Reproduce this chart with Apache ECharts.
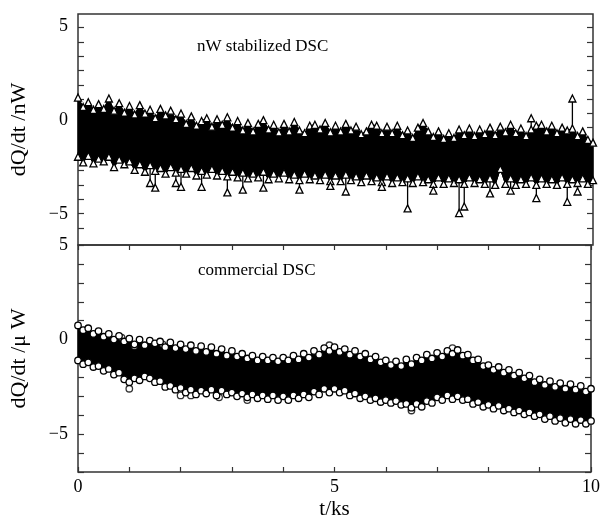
<!DOCTYPE html>
<html>
<head>
<meta charset="utf-8">
<title>DSC baseline</title>
<script src="https://cdn.jsdelivr.net/npm/echarts@6/dist/echarts.min.js"></script>
<style>
    html, body { margin: 0; padding: 0; background: #fff; }
    #main { width: 603px; height: 521px; }
</style>
</head>
<body>
<div id="main"></div>
<script>
// sample positions, t/ks (step 0.1)
var tGrid = [];
for (var i = 0; i <= 100; i++) tGrid.push(+(i * 0.1).toFixed(1));

// nW stabilized DSC: upper / lower edge of the noise band
var topHi = [1.20, 0.70, 0.95, 0.55, 0.85, 0.60, 1.15, 0.50, 0.90, 0.40,
    0.75, 0.30, 0.80, 0.35, 0.55, 0.10, 0.60, 0.25, 0.50, 0.05,
    0.35, -0.20, 0.20, -0.30, -0.05, 0.10, -0.35, 0.05, -0.25, 0.15,
    -0.40, -0.05, -0.55, -0.15, -0.60, -0.20, 0.00, -0.50, -0.25, -0.65,
    -0.20, -0.60, -0.10, -0.55, -0.70, -0.30, -0.25, -0.50, -0.15, -0.65,
    -0.30, -0.60, -0.20, -0.55, -0.35, -0.75, -0.60, -0.25, -0.30, -0.70,
    -0.35, -0.70, -0.30, -0.80, -0.55, -0.95, -0.40, -0.15, -0.60, -0.90,
    -0.60, -1.00, -0.70, -0.95, -0.50, -0.80, -0.45, -0.85, -0.50, -0.75,
    -0.40, -0.80, -0.35, -0.65, -0.25, -0.70, -0.45, -0.85, -0.50, -0.30,
    -0.25, -0.60, -0.30, -0.70, -0.40, -0.55, -0.45, -0.85, -0.60, -1.05, -1.20];
var topLo = [-1.95, -2.25, -1.90, -2.30, -2.05, -2.20, -1.95, -2.50, -2.10, -2.35,
    -2.20, -2.65, -2.35, -2.75, -2.40, -2.70, -2.55, -2.85, -2.50, -2.80,
    -2.60, -2.85, -2.55, -2.95, -2.70, -2.90, -2.60, -2.95, -2.70, -3.00,
    -2.75, -3.05, -2.80, -3.10, -2.85, -3.05, -2.75, -3.15, -2.85, -3.10,
    -2.80, -3.15, -2.90, -3.20, -2.85, -3.15, -2.95, -3.20, -2.90, -3.25,
    -2.95, -3.25, -2.90, -3.20, -3.00, -3.30, -2.95, -3.25, -3.05, -3.30,
    -3.00, -3.35, -3.05, -3.30, -3.10, -3.35, -3.00, -3.30, -3.15, -3.40,
    -3.05, -3.40, -3.10, -3.35, -3.15, -3.40, -3.05, -3.35, -3.15, -3.40,
    -3.10, -3.45, -2.60, -3.40, -3.10, -3.45, -3.15, -3.40, -3.05, -3.45,
    -3.10, -3.40, -3.15, -3.45, -3.05, -3.40, -3.15, -3.35, -3.10, -3.40, -3.20];
// single points sticking out of the band [t, value]
var topSpikes = [[1.4, -3.35], [1.5, -3.6], [1.9, -3.35], [2.0, -3.55], [2.4, -3.55],
    [2.9, -3.85], [3.2, -3.7], [3.6, -3.6], [4.3, -3.7], [4.9, -3.5], [5.2, -3.8],
    [5.9, -3.55], [6.4, -4.7], [6.9, -3.75], [7.4, -4.95], [7.5, -4.6], [8.0, -3.9],
    [8.4, -3.75], [8.8, 0.1], [8.9, -4.15], [9.5, -4.35], [9.6, 1.15], [9.7, -3.8]];

// commercial DSC
var botHi = [0.75, 0.50, 0.60, 0.30, 0.45, 0.15, 0.30, 0.00, 0.20, -0.10,
    0.05, -0.25, 0.00, -0.30, -0.05, -0.20, -0.10, -0.40, -0.15, -0.45,
    -0.25, -0.50, -0.30, -0.60, -0.35, -0.65, -0.40, -0.75, -0.50, -0.85,
    -0.60, -0.90, -0.75, -1.00, -0.85, -1.10, -0.90, -1.10, -0.95, -1.15,
    -0.95, -1.10, -0.85, -1.05, -0.75, -0.95, -0.60, -0.80, -0.45, -0.60,
    -0.40, -0.65, -0.50, -0.80, -0.60, -0.90, -0.75, -1.05, -0.90, -1.20,
    -1.10, -1.35, -1.15, -1.40, -1.05, -1.30, -0.95, -1.10, -0.80, -1.00,
    -0.70, -0.90, -0.60, -0.75, -0.55, -0.85, -0.80, -1.10, -1.05, -1.40,
    -1.35, -1.60, -1.45, -1.75, -1.60, -1.90, -1.75, -2.05, -1.90, -2.25,
    -2.10, -2.40, -2.20, -2.50, -2.30, -2.60, -2.35, -2.65, -2.45, -2.75, -2.60];
var botLo = [-1.10, -1.30, -1.20, -1.45, -1.40, -1.65, -1.55, -1.85, -1.75, -2.10,
    -2.25, -2.05, -2.15, -1.95, -2.05, -2.25, -2.20, -2.50, -2.45, -2.65,
    -2.55, -2.80, -2.65, -2.90, -2.70, -2.85, -2.65, -2.95, -2.70, -2.90,
    -2.80, -3.00, -2.85, -3.05, -2.90, -3.10, -2.95, -3.15, -2.95, -3.20,
    -3.00, -3.20, -2.95, -3.10, -2.90, -3.05, -2.75, -2.90, -2.60, -2.80,
    -2.60, -2.80, -2.70, -2.95, -2.85, -3.10, -3.00, -3.20, -3.10, -3.30,
    -3.20, -3.35, -3.25, -3.45, -3.40, -3.60, -3.40, -3.55, -3.25, -3.35,
    -3.05, -3.20, -2.95, -3.15, -3.00, -3.20, -3.15, -3.40, -3.30, -3.55,
    -3.45, -3.65, -3.50, -3.75, -3.65, -3.85, -3.75, -3.95, -3.85, -4.05,
    -3.95, -4.20, -4.05, -4.30, -4.15, -4.40, -4.20, -4.45, -4.25, -4.45, -4.30];
var botOutliers = [[0.85, 0.1], [1.1, -0.35], [1.65, -0.25], [1.0, -2.6], [2.0, -2.95],
    [2.2, -2.95], [2.75, -3.05], [3.3, -3.2], [4.9, -0.3], [7.3, -0.45], [6.5, -3.75]];

// axis ticks / labels
var xLabels = [0, 5, 10];
var topLabels = [-5, 0, 5];
var topTicks = [4.93, 4.17, 3.40, 2.64, 1.88, 1.12, 0.36, -0.40, -1.17, -1.93,
    -2.69, -3.45, -4.21, -4.98, -5.74];
var botLabels = [-5, 0, 5];

var FONT = '"Liberation Serif", "Times New Roman", serif';
var frameColor = '#333';

function pairs(arr) {
    return tGrid.map(function (t, i) { return [t, arr[i]]; });
}
// vertical strokes from band edge to each spike tip
function spikeData(spikes, hi, lo) {
    var out = [];
    for (var k = 0; k < spikes.length; k++) {
        var t = spikes[k][0], v = spikes[k][1];
        var idx = Math.round(t * 10);
        var base = v > hi[idx] ? hi[idx] : lo[idx];
        out.push({value: [t, base], symbol: 'none'});
        out.push({value: [t, v]});
        out.push({value: [t, '-'], symbol: 'none'});
    }
    return out;
}
// filled polygon between the two band edges
function bandRenderer(hi, lo) {
    return function (params, api) {
        var pts = [];
        for (var i = 0; i < tGrid.length; i++) pts.push(api.coord([tGrid[i], hi[i]]));
        for (var j = tGrid.length - 1; j >= 0; j--) pts.push(api.coord([tGrid[j], lo[j]]));
        return {type: 'polygon', shape: {points: pts}, style: {fill: '#000', stroke: '#000', lineWidth: 1}};
    };
}
function minus(v) {
    return v < 0 ? '\u2212' + Math.abs(v) : String(v);
}

var tickStyle = {color: frameColor, width: 1.2};
var labelStyle = {color: '#000', fontFamily: FONT, fontSize: 18};
var nameStyle = {color: '#000', fontFamily: FONT, fontSize: 22};
var hollow = {color: '#fff', borderColor: '#000', borderWidth: 1.3};
var noLine = {show: false, onZero: false};

var chart = echarts.init(document.getElementById('main'));
var option = {
    animation: false,
    backgroundColor: '#fff',
    grid: [
        {left: 78, top: 14, width: 515, height: 231, show: true, borderColor: frameColor, borderWidth: 1.5},
        {left: 78, top: 245, width: 515, height: 231, show: true, borderColor: frameColor, borderWidth: 1.5}
    ],
    xAxis: [
        {gridIndex: 0, type: 'value', min: 0, max: 10, interval: 1,
            axisLine: noLine, axisTick: {show: false}, axisLabel: {show: false}, splitLine: {show: false}},
        {gridIndex: 1, type: 'value', min: 0, max: 10, interval: 1, position: 'bottom',
            axisLine: noLine,
            axisTick: {inside: true, length: 5, lineStyle: tickStyle},
            axisLabel: Object.assign({customValues: xLabels, margin: 6}, labelStyle),
            splitLine: {show: false},
            name: 't/ks', nameLocation: 'middle', nameGap: 27,
            nameTextStyle: {color: '#000', fontFamily: FONT, fontSize: 21}},
        {gridIndex: 1, type: 'value', min: 0, max: 10, interval: 1, position: 'top',
            axisLine: noLine,
            axisTick: {inside: true, length: 5, lineStyle: tickStyle},
            axisLabel: {show: false}, splitLine: {show: false}}
    ],
    yAxis: [
        {gridIndex: 0, type: 'value', min: -6.65, max: 5.65, position: 'left',
            axisLine: noLine,
            axisTick: {inside: true, length: 6, customValues: topTicks, lineStyle: tickStyle},
            axisLabel: Object.assign({customValues: topLabels, margin: 10, padding: [5, 0, 0, 0], formatter: minus}, labelStyle),
            splitLine: {show: false},
            name: 'dQ/dt /nW', nameLocation: 'middle', nameGap: 48, nameTextStyle: nameStyle},
        {gridIndex: 0, type: 'value', min: -6.65, max: 5.65, position: 'right',
            axisLine: noLine,
            axisTick: {inside: true, length: 6, customValues: topTicks, lineStyle: tickStyle},
            axisLabel: {show: false}, splitLine: {show: false}},
        {gridIndex: 1, type: 'value', min: -7, max: 5, interval: 1, position: 'left',
            axisLine: noLine,
            axisTick: {inside: true, length: 6, lineStyle: tickStyle},
            axisLabel: Object.assign({customValues: botLabels, margin: 10, padding: [5, 0, 0, 0], formatter: minus}, labelStyle),
            splitLine: {show: false},
            name: 'dQ/dt /\u03bc W', nameLocation: 'middle', nameGap: 48, nameTextStyle: nameStyle},
        {gridIndex: 1, type: 'value', min: -7, max: 5, interval: 1, position: 'right',
            axisLine: noLine,
            axisTick: {inside: true, length: 6, lineStyle: tickStyle},
            axisLabel: {show: false}, splitLine: {show: false}}
    ],
    graphic: [
        {type: 'text', left: 197, top: 38, style: {text: 'nW stabilized DSC', font: '17px ' + FONT, fill: '#000'}},
        {type: 'text', left: 198, top: 262, style: {text: 'commercial DSC', font: '17px ' + FONT, fill: '#000'}}
    ],
    series: [
        // top panel: band body, edges, spikes
        {type: 'custom', xAxisIndex: 0, yAxisIndex: 0, data: [0], renderItem: bandRenderer(topHi, topLo)},
        {type: 'line', xAxisIndex: 0, yAxisIndex: 0, data: pairs(topLo),
            symbol: 'triangle', symbolSize: 7, itemStyle: hollow, lineStyle: {color: '#000', width: 1}},
        {type: 'line', xAxisIndex: 0, yAxisIndex: 0, data: pairs(topHi),
            symbol: 'triangle', symbolSize: 7, itemStyle: hollow, lineStyle: {color: '#000', width: 1}},
        {type: 'line', xAxisIndex: 0, yAxisIndex: 0, data: spikeData(topSpikes, topHi, topLo),
            connectNulls: false, symbol: 'triangle', symbolSize: 7, itemStyle: hollow,
            lineStyle: {color: '#000', width: 1.3}},
        // bottom panel
        {type: 'custom', xAxisIndex: 1, yAxisIndex: 2, data: [0], renderItem: bandRenderer(botHi, botLo)},
        {type: 'line', xAxisIndex: 1, yAxisIndex: 2, data: pairs(botLo),
            symbol: 'circle', symbolSize: 6.5, itemStyle: hollow, lineStyle: {color: '#000', width: 1}},
        {type: 'line', xAxisIndex: 1, yAxisIndex: 2, data: pairs(botHi),
            symbol: 'circle', symbolSize: 6.5, itemStyle: hollow, lineStyle: {color: '#000', width: 1}},
        {type: 'scatter', xAxisIndex: 1, yAxisIndex: 2, data: botOutliers,
            symbol: 'circle', symbolSize: 6.5, itemStyle: hollow}
    ]
};
chart.setOption(option);
</script>
</body>
</html>
